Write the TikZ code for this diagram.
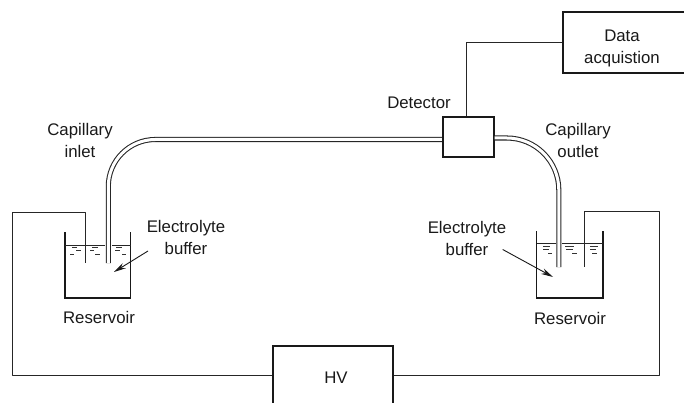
\documentclass[tikz,border=0pt]{standalone}
\usepackage{fontspec}
\setmainfont{Liberation Sans}
\usetikzlibrary{arrows.meta}
\tikzset{
  wire/.style={draw=black!85,line width=0.9pt,line join=round},
  boxed/.style={draw=black!90,line width=1.8pt,inner sep=0pt,fill=white},
  vessel/.style={draw=black!90,line width=1.7pt,line join=miter},
  level/.style={draw=black!85,line width=1pt},
  ripple/.style={draw=black!80,line width=0.7pt},
  tube/.style={draw=black!85,line width=1.05pt,double=white,double distance=3pt},
  pointer/.style={draw=black!90,line width=0.9pt,-{Stealth[length=12pt,width=6pt]}},
  lbl/.style={font=\fontsize{16.8}{22}\selectfont,align=center,text=black!90,inner sep=0pt}
}
\begin{document}
\begin{tikzpicture}[x=1pt,y=-1pt]
\useasboundingbox (0,0) rectangle (684,403);
\clip (0,0) rectangle (684,403);
% boxes
\node[boxed,minimum width=51pt,minimum height=40pt] (det) at (468.2,137) {};
\node[boxed,minimum width=130pt,minimum height=61pt] (daq) at (628,42.5) {};
\node[boxed,minimum width=120pt,minimum height=66pt] (hv) at (333,379) {};
% anchors of connectors
\coordinate (capL) at (108.3,263);
\coordinate (capR) at (558.8,267);
\coordinate (wireL) at (85,263);
\coordinate (wireR) at (584,267);
% capillaries
\draw[tube,rounded corners=47pt] (capL) -- (108.3,139.5) -- (det.west |- 0,139.5);
\draw[tube,rounded corners=52pt] (capR) -- (558.8,138) -- (det.east |- 0,138);
% reservoirs
\draw[vessel] (65,232) -- (65,298) -- (130.5,298) -- (130.5,232);
\draw[vessel] (536.5,231) -- (536.5,298) -- (603,298) -- (603,231);
% liquid levels
\draw[level] (65,245.5) -- (105,245.5) (112,245.5) -- (130.5,245.5);
\draw[level] (536.5,243.5) -- (556,243.5) (562,243.5) -- (603,243.5);
% ripples
\draw[ripple] (72,247) -- (77,247) (92,247) -- (98,247) (116,247) -- (122,247)
  (70,254) -- (74,254) (76,250.5) -- (81,250.5) (95,254) -- (100,254) (90,250.5) -- (94,250.5)
  (115,250.5) -- (120,250.5) (122,254) -- (126,254);
\draw[ripple] (543,246) -- (550,246) (565,246) -- (574,246) (590,246) -- (598,246)
  (543,249) -- (549,249) (566,249) -- (573,249) (590,249) -- (596,249)
  (548,253) -- (552,253) (572,253) -- (577,253) (592,253) -- (597,253);
% wires
\draw[wire] (hv.west |- 0,375) -- (12,375) -- (12,212) -- (85,212) -- (wireL);
\draw[wire] (hv.east |- 0,375) -- (659,375) -- (659,211) -- (584,211) -- (wireR);
\draw[wire] (det.north -| 466,0) -- (466,42) -- (daq.west |- 0,42);
% pointers
\coordinate (tipL) at (114,272);
\coordinate (tailL) at (148,251);
\coordinate (tipR) at (553,277);
\coordinate (tailR) at (502.7,249.5);
\draw[pointer] (tailL) -- (tipL);
\draw[pointer] (tailR) -- (tipR);
% labels
\node[lbl] (tdaq) at (622,48) {Data\\acquistion};
\node[lbl] (tdet) at (419,103) {Detector};
\node[lbl] (tinlet) at (80,140) {Capillary\\inlet};
\node[lbl] (toutlet) at (578,140) {Capillary\\outlet};
\node[lbl] (tbufL) at (186,237) {Electrolyte\\buffer};
\node[lbl] (tbufR) at (467,238) {Electrolyte\\buffer};
\node[lbl] (tresL) at (99,317) {Reservoir};
\node[lbl] (tresR) at (570,318) {Reservoir};
\node[lbl] (thv) at (336,378) {HV};
\end{tikzpicture}
\end{document}
